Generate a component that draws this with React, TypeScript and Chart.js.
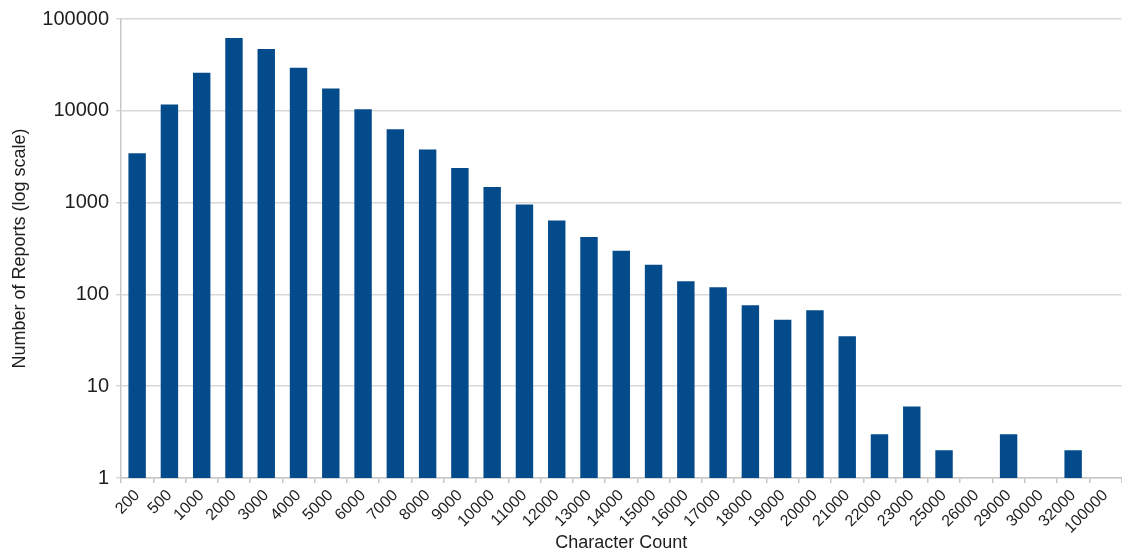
import React, { useEffect, useRef } from "react";
import { Chart, registerables } from "chart.js";

Chart.register(...registerables);

const categories: string[] = [
  "200", "500", "1000", "2000", "3000", "4000", "5000", "6000", "7000", "8000",
  "9000", "10000", "11000", "12000", "13000", "14000", "15000", "16000", "17000",
  "18000", "19000", "20000", "21000", "22000", "23000", "25000", "26000", "29000",
  "30000", "32000", "100000",
];

const reportCounts: (number | null)[] = [
  3450, 11700, 26000, 62000, 47000, 29500, 17500, 10400, 6300, 3800,
  2380, 1480, 955, 640, 423, 299, 211, 139, 120,
  76, 53, 67, 35, 3, 6, 2, null, 3,
  null, 2, null,
];

const yTickValues: number[] = [1, 10, 100, 1000, 10000, 100000];

const FONT = "'Liberation Sans', Arial, Helvetica, sans-serif";
const TEXT = "#1e1e1e";
const GRID = "#d8d8d8";

export default function App() {
  const canvasRef = useRef<HTMLCanvasElement | null>(null);

  useEffect(() => {
    if (!canvasRef.current) return;
    const chart = new Chart(canvasRef.current, {
      type: "bar",
      data: {
        labels: categories,
        datasets: [
          {
            label: "Number of Reports",
            data: reportCounts as any,
            backgroundColor: "#044b8b",
            borderWidth: 0,
            barPercentage: 0.54,
            categoryPercentage: 1,
          },
        ],
      },
      options: {
        animation: false,
        responsive: true,
        maintainAspectRatio: false,
        layout: { padding: { top: 16, right: 0, left: 0, bottom: 0 } },
        plugins: {
          legend: { display: false },
          tooltip: { enabled: false },
        },
        scales: {
          x: {
            type: "category",
            offset: true,
            grid: {
              offset: true,
              drawOnChartArea: false,
              drawTicks: true,
              tickLength: 5,
              color: "#c8c8c8",
              lineWidth: 1.5,
            },
            border: { display: true, color: "#c8c8c8", width: 1.5 },
            ticks: {
              autoSkip: false,
              maxRotation: 45,
              minRotation: 45,
              padding: 3,
              color: TEXT,
              font: { family: FONT, size: 16 },
            },
            title: {
              display: true,
              text: "Character Count",
              color: TEXT,
              font: { family: FONT, size: 18 },
              padding: { top: 0, bottom: 1 },
            },
            afterFit: (scale: any) => {
              scale.height = 77;
            },
          },
          y: {
            type: "logarithmic",
            min: 1,
            max: 100000,
            afterBuildTicks: (scale: any) => {
              scale.ticks = yTickValues.map((v) => ({ value: v }));
            },
            grid: {
              color: GRID,
              lineWidth: 1.5,
              tickLength: 5,
              drawTicks: true,
            },
            border: { display: true, color: "#c8c8c8", width: 1.5 },
            ticks: {
              padding: 7,
              color: TEXT,
              font: { family: FONT, size: 20 },
              callback: (value: any) => String(value),
            },
            title: {
              display: true,
              text: "Number of Reports (log scale)",
              color: TEXT,
              font: { family: FONT, size: 18 },
              padding: { top: 9, bottom: 0 },
            },
            afterFit: (scale: any) => {
              scale.width = 121;
            },
          },
        },
      },
    });
    return () => chart.destroy();
  }, []);

  return (
    <div
      style={{
        position: "fixed",
        left: 0,
        top: 0,
        width: "1122px",
        height: "555px",
        background: "#ffffff",
      }}
    >
      <canvas ref={canvasRef} />
    </div>
  );
}
